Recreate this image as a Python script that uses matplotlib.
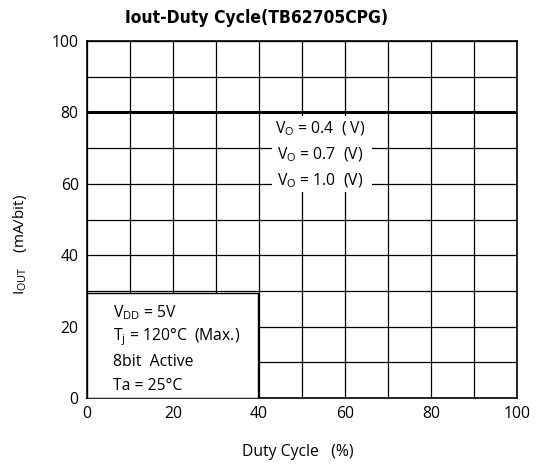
import numpy as np
import matplotlib.pyplot as plt
from matplotlib.patches import Rectangle

# Данные: ток Iout при разных Vo, одинаковый для всех скважностей
duty = [0, 100]
iout_04 = [80, 80]
iout_07 = [80, 80]
iout_10 = [80, 80]
vo_labels = ['$\\mathregular{V_O}$ = 0.4  ( V)',
             '$\\mathregular{V_O}$ = 0.7  (V)',
             '$\\mathregular{V_O}$ = 1.0  (V)']
cond_labels = ['$\\mathregular{V_{DD}}$ = 5V',
               '$\\mathregular{T_j}$ = 120°C  (Max.)',
               '8bit  Active',
               'Ta = 25°C']

plt.rcParams['font.family'] = ['Open Sans', 'DejaVu Sans']
plt.rcParams['mathtext.fontset'] = 'custom'
plt.rcParams['mathtext.rm'] = 'Open Sans'

fig = plt.figure(figsize=(5.36, 4.65), dpi=100)
ax = fig.add_axes([87 / 536, 67 / 465, 430 / 536, 357 / 465])

ax.set_xlim(0, 100)
ax.set_ylim(0, 100)
ax.set_xticks(np.arange(0, 101, 20))
ax.set_yticks(np.arange(0, 101, 20))
ax.set_xticks(np.arange(0, 101, 10), minor=True)
ax.set_yticks(np.arange(0, 101, 10), minor=True)
ax.tick_params(which='both', length=0, labelsize=11.3, pad=6)
ax.grid(True, which='both', color='black', linewidth=0.9)
for s in ax.spines.values():
    s.set_linewidth(1.2)

for y in (iout_04, iout_07, iout_10):
    ax.plot(duty, y, color='black', linewidth=2.0, zorder=3)

# белая подложка под подписями Vo
ax.add_patch(Rectangle((43, 57.8), 23.3, 21.3, facecolor='white',
                       edgecolor='none', zorder=4))
for i, t in enumerate(vo_labels):
    ax.text(54.2, 75.3 - i * 7.2, t, ha='center', va='center',
            fontsize=11.3, zorder=5)

# рамка с условиями
ax.add_patch(Rectangle((0, 0), 39.8, 29.5, facecolor='white',
                       edgecolor='black', linewidth=1.0, zorder=4))
for i, t in enumerate(cond_labels):
    ax.text(6, 23.8 - i * 6.8, t, ha='left', va='center',
            fontsize=11.3, zorder=5)

fig.text(257 / 536, 1 - 18 / 465, 'Iout-Duty Cycle(TB62705CPG)',
         ha='center', va='center', fontsize=12.5, fontweight='bold',
         fontstretch='condensed', family=['DejaVu Sans'])
fig.text(298 / 536, 1 - 452 / 465, 'Duty Cycle   (%)', ha='center',
         va='center', fontsize=11.3)
fig.text(20 / 536, 1 - 245 / 465, '$\\mathregular{I_{OUT}}$    (mA/bit)',
         ha='center', va='center', rotation=90, fontsize=11)

fig.savefig('out.png', dpi=100)
